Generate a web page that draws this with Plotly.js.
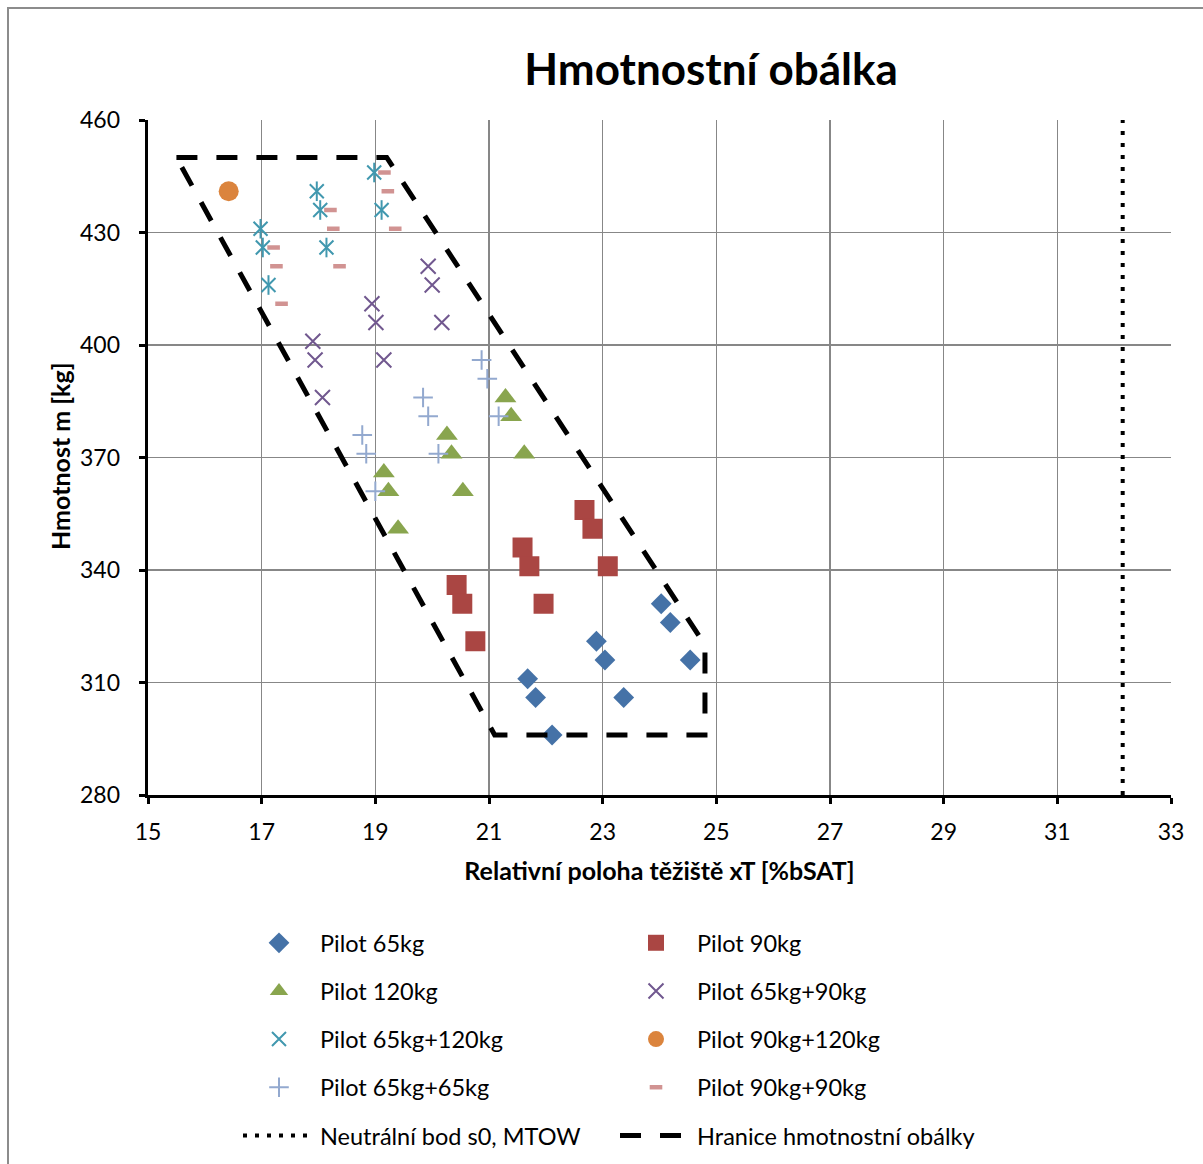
<!DOCTYPE html>
<html>
<head>
<meta charset="utf-8">
<script src="https://cdn.plot.ly/plotly-3.0.1.min.js"></script>
<style>
  html, body { margin: 0; padding: 0; background: #fff; }
  #chart { width: 1203px; height: 1164px; }
</style>
</head>
<body>
<div id="chart"></div>
<script>
// Loading configurations: centre of gravity xT [%bSAT] and mass m [kg]
const p65_x = [24.03, 24.19, 22.89, 23.04, 24.54, 21.68, 21.82, 23.37, 22.11];
const p65_y = [331, 326, 321, 316, 316, 311, 306, 306, 296];

const p90_x = [22.68, 22.82, 21.59, 21.71, 23.09, 20.43, 20.53, 21.96, 20.76];
const p90_y = [356, 351, 346, 341, 341, 336, 331, 331, 321];

const p120_x = [21.29, 21.39, 20.26, 20.34, 21.62, 19.15, 19.23, 20.54, 19.40];
const p120_y = [386, 381, 376, 371, 371, 366, 361, 361, 351];

const p65_90_x = [19.93, 20.00, 18.94, 19.01, 20.17, 17.90, 17.94, 19.15, 18.07];
const p65_90_y = [421, 416, 411, 406, 406, 401, 396, 396, 386];

const p65_120_x = [18.98, 17.97, 18.03, 19.11, 16.98, 17.02, 18.14, 17.12];
const p65_120_y = [446, 441, 436, 436, 431, 426, 426, 416];

const p90_120_x = [16.42];
const p90_120_y = [441];

const p65_65_x = [20.87, 20.97, 19.84, 19.93, 21.17, 18.77, 18.84, 20.11, 19.00];
const p65_65_y = [396, 391, 386, 381, 381, 376, 371, 371, 361];

const p90_90_x = [19.16, 19.22, 18.21, 18.26, 19.35, 17.21, 17.26, 18.37, 17.35];
const p90_90_y = [446, 441, 436, 431, 431, 426, 421, 421, 411];

// Neutral point s0 at MTOW
const s0_x = [32.15, 32.15];
const s0_y = [280, 460];

// Weight & balance envelope boundary
const env_x = [15.5, 19.2, 24.8, 24.8, 21.1, 15.5];
const env_y = [450, 450, 320, 296, 296, 450];

const FONT = 'Lato, "Open Sans", sans-serif';

function pts(name, x, y, symbol, size, color, legend, lw) {
  const open = symbol.indexOf('open') >= 0;
  return {
    type: 'scatter', mode: 'markers', name: name, x: x, y: y,
    legend: legend, legendgroup: name,
    marker: {
      symbol: symbol, size: size, color: color,
      line: open ? { color: color, width: lw || 2 } : { width: 0 }
    },
    cliponaxis: false
  };
}

const traces = [
  // left legend column
  pts('Pilot 65kg', p65_x, p65_y, 'diamond', 16, '#4572A7', 'legend'),
  pts('Pilot 120kg', p120_x, p120_y, 'triangle-up', 19, '#89A54E', 'legend'),
  pts('Pilot 65kg+120kg', p65_120_x, p65_120_y, 'x-thin-open', 14, '#4198AF', 'legend'),
  pts('Pilot 65kg+65kg', p65_65_x, p65_65_y, 'cross-thin-open', 14, '#93A9CF', 'legend'),
  {
    type: 'scatter', mode: 'lines', name: 'Neutrální bod s0, MTOW',
    x: s0_x, y: s0_y, legend: 'legend', legendgroup: 's0',
    line: { color: '#000', width: 4, dash: '4px,8px' }
  },
  // right legend column
  pts('Pilot 90kg', p90_x, p90_y, 'square', 20, '#AA4643', 'legend2'),
  pts('Pilot 65kg+90kg', p65_90_x, p65_90_y, 'x-thin-open', 15, '#71588F', 'legend2'),
  pts('Pilot 90kg+120kg', p90_120_x, p90_120_y, 'circle', 20, '#DB843D', 'legend2'),
  pts('Pilot 90kg+90kg', p90_90_x, p90_90_y, 'line-ew-open', 9, '#D19392', 'legend2', 4.5),
  {
    type: 'scatter', mode: 'lines', name: 'Hranice hmotnostní obálky',
    x: env_x, y: env_y, legend: 'legend2', legendgroup: 'env',
    line: { color: '#000', width: 5, dash: '21px,19px' }
  },
  // vertical stroke completing the star markers of the 65kg+120kg series
  Object.assign(pts('Pilot 65kg+120kg', p65_120_x, p65_120_y, 'line-ns-open', 14, '#4198AF', 'legend'),
                { showlegend: false, hoverinfo: 'skip' })
];

const axisCommon = {
  showgrid: true, gridcolor: '#878787', gridwidth: 1.5,
  showline: true, linecolor: '#000', linewidth: 3,
  ticks: 'outside', ticklen: 6, tickwidth: 3, tickcolor: '#000',
  zeroline: false, fixedrange: true,
  tickfont: { family: FONT, size: 23, color: '#000' }
};

const legendCommon = {
  orientation: 'v', xanchor: 'left', yanchor: 'top',
  xref: 'container', yref: 'container',
  font: { family: FONT, size: 23.5, color: '#000' },
  itemwidth: 72,
  tracegroupgap: 14.6, bgcolor: 'rgba(0,0,0,0)', borderwidth: 0,
  itemclick: false, itemdoubleclick: false
};

const H = 1164, W = 1203;

const layout = {
  width: W, height: H,
  margin: { l: 148, r: 32, t: 120, b: 369, autoexpand: false },
  paper_bgcolor: '#fff', plot_bgcolor: '#fff',
  font: { family: FONT, color: '#000' },
  title: {
    text: '<b>Hmotnostní obálka</b>',
    font: { family: FONT, size: 44, color: '#000' },
    xref: 'container', x: 711 / W, xanchor: 'center',
    yref: 'container', y: 1 - 70 / H, yanchor: 'middle'
  },
  xaxis: Object.assign({}, axisCommon, {
    range: [15, 33], tick0: 15, dtick: 2, ticklabelstandoff: 8,
    title: { text: '<b>Relativní poloha těžiště xT [%bSAT]</b>', font: { family: FONT, size: 25, color: '#000' }, standoff: 19 }
  }),
  yaxis: Object.assign({}, axisCommon, {
    range: [280, 460], tick0: 280, dtick: 30, ticksuffix: '\u2002\u2009'
  }),
  // companion axes drawing the inner half of the crossing tick marks
  xaxis2: {
    overlaying: 'x', anchor: 'y', side: 'bottom', range: [15, 33], tick0: 15, dtick: 2,
    showgrid: false, showline: false, zeroline: false, showticklabels: false,
    ticks: 'inside', ticklen: 6, tickwidth: 3, tickcolor: '#000', fixedrange: true
  },
  yaxis2: {
    overlaying: 'y', anchor: 'x', side: 'left', range: [280, 460], tick0: 280, dtick: 30,
    showgrid: false, showline: false, zeroline: false, showticklabels: false,
    ticks: 'inside', ticklen: 6, tickwidth: 3, tickcolor: '#000', fixedrange: true
  },
  // vertical axis caption
  annotations: [
    {
      text: '<b>Hmotnost m [kg]</b>', textangle: -90, showarrow: false,
      xref: 'paper', x: (60 - 148) / 1023, xanchor: 'center',
      yref: 'paper', y: (795 - 456) / 675, yanchor: 'middle',
      font: { family: FONT, size: 25, color: '#000' }
    }
  ],
  legend: Object.assign({}, legendCommon, { x: 238 / W, y: 1 - 921 / H }),
  legend2: Object.assign({}, legendCommon, { x: 615 / W, y: 1 - 921 / H }),
  shapes: [
    {
      type: 'rect', xref: 'paper', yref: 'paper', layer: 'below',
      x0: (8 - 148) / 1023, x1: (1230 - 148) / 1023,
      y0: (795 - 1190) / 675, y1: (795 - 8) / 675,
      line: { color: '#8c8c8c', width: 2 }, fillcolor: 'rgba(0,0,0,0)'
    }
  ],
  showlegend: true,
  hovermode: false
};

Plotly.newPlot('chart', traces, layout, { displayModeBar: false, staticPlot: true });
</script>
</body>
</html>
